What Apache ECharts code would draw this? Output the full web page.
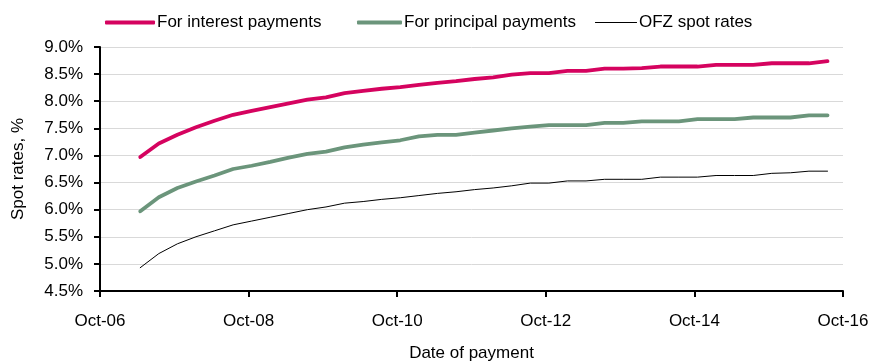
<!DOCTYPE html>
<html>
<head>
<meta charset="utf-8">
<script src="https://cdn.jsdelivr.net/npm/echarts@6/dist/echarts.min.js"></script>
<style>
  html, body { margin: 0; padding: 0; background: #fff; }
  #chart { width: 872px; height: 362px; }
</style>
</head>
<body>
<div id="chart"></div>
<script>
// Payment dates, in months after October 2006 (quarterly)
const paymentMonths = [
  6.5, 9.5, 12.5, 15.5, 18.5, 21.5, 24.5, 27.5, 30.5, 33.5,
  36.5, 39.5, 42.5, 45.5, 48.5, 51.5, 54.5, 57.5, 60.5, 63.5,
  66.5, 69.5, 72.5, 75.5, 78.5, 81.5, 84.5, 87.5, 90.5, 93.5,
  96.5, 99.5, 102.5, 105.5, 108.5, 111.5, 114.5, 117.5
];

// Spot rates, %
const interestRates = [
  6.97, 7.22, 7.38, 7.52, 7.64, 7.75, 7.82, 7.89, 7.96, 8.03,
  8.07, 8.15, 8.19, 8.23, 8.26, 8.30, 8.34, 8.37, 8.41, 8.44,
  8.49, 8.52, 8.52, 8.56, 8.56, 8.60, 8.60, 8.61, 8.64, 8.64,
  8.64, 8.67, 8.67, 8.67, 8.70, 8.70, 8.70, 8.74
];
const principalRates = [
  5.97, 6.23, 6.40, 6.52, 6.63, 6.75, 6.81, 6.88, 6.96, 7.03,
  7.07, 7.15, 7.20, 7.24, 7.28, 7.35, 7.38, 7.38, 7.42, 7.46,
  7.50, 7.53, 7.56, 7.56, 7.56, 7.60, 7.60, 7.63, 7.63, 7.63,
  7.67, 7.67, 7.67, 7.70, 7.70, 7.70, 7.74, 7.74
];
const ofzRates = [
  4.93, 5.19, 5.37, 5.50, 5.61, 5.72, 5.79, 5.86, 5.93, 6.00,
  6.05, 6.12, 6.15, 6.19, 6.22, 6.26, 6.30, 6.33, 6.37, 6.40,
  6.44, 6.49, 6.49, 6.53, 6.53, 6.56, 6.56, 6.56, 6.60, 6.60,
  6.60, 6.63, 6.63, 6.63, 6.67, 6.68, 6.71, 6.71
];

// X tick labels, every 24 months
const xTickLabels = ['Oct-06', 'Oct-08', 'Oct-10', 'Oct-12', 'Oct-14', 'Oct-16'];

const seriesNames = ['For interest payments', 'For principal payments', 'OFZ spot rates'];
const seriesColors = ['#d5035f', '#6b957b', '#000000'];
const seriesWidths = [3.8, 3.8, 1];
const seriesValues = [interestRates, principalRates, ofzRates];

const FONT = "'Liberation Sans', Arial, sans-serif";

const chart = echarts.init(document.getElementById('chart'), null, { renderer: 'canvas' });

const pairs = vals => paymentMonths.map((m, i) => [m, vals[i]]);

// One legend block per series, so each key sits in its own spot
const legendLefts = [105, 357, 595];
const legendKeyWidths = [50, 45, 42];

chart.setOption({
  animation: false,
  backgroundColor: '#ffffff',
  textStyle: { fontFamily: FONT },
  legend: seriesNames.map((name, i) => ({
    data: [name],
    left: legendLefts[i],
    top: 14,
    icon: 'roundRect',
    itemWidth: legendKeyWidths[i],
    itemHeight: seriesWidths[i] > 2 ? 4 : 1,
    itemGap: 0,
    padding: 0,
    textStyle: { fontFamily: FONT, fontSize: 17, color: '#000', padding: [0, 0, 0, -3] }
  })),
  grid: { left: 100, right: 29, top: 47, bottom: 71, containLabel: false, outerBoundsMode: 'none' },
  xAxis: {
    type: 'value',
    min: 0,
    max: 120,
    interval: 24,
    name: 'Date of payment',
    nameLocation: 'middle',
    nameGap: 54,
    nameTextStyle: { fontFamily: FONT, fontSize: 17, color: '#000' },
    axisLine: { show: true, onZero: false, lineStyle: { color: '#000', width: 2 } },
    axisTick: { show: true, length: 6, inside: false, lineStyle: { color: '#000', width: 2 } },
    axisLabel: {
      margin: 22,
      fontFamily: FONT, fontSize: 17, color: '#000',
      formatter: v => xTickLabels[Math.round(v / 24)] || ''
    },
    splitLine: { show: false }
  },
  yAxis: {
    type: 'value',
    min: 4.5,
    max: 9.0,
    interval: 0.5,
    name: 'Spot rates, %',
    nameLocation: 'middle',
    nameGap: 73,
    nameRotate: 90,
    nameTextStyle: { fontFamily: FONT, fontSize: 17, color: '#000' },
    axisLine: { show: true, lineStyle: { color: '#000', width: 2 } },
    axisTick: { show: true, length: 6, lineStyle: { color: '#000', width: 2 } },
    axisLabel: {
      margin: 17,
      fontFamily: FONT, fontSize: 17, color: '#000',
      formatter: v => v.toFixed(1) + '%'
    },
    splitLine: { show: true, lineStyle: { color: '#d9d9d9', width: 1 } }
  },
  series: seriesNames.map((name, i) => ({
    name,
    type: 'line',
    data: pairs(seriesValues[i]),
    symbol: 'none',
    smooth: false,
    color: seriesColors[i],
    lineStyle: { color: seriesColors[i], width: seriesWidths[i], cap: 'round', join: 'round' },
    z: 3 - i
  }))
});
</script>
</body>
</html>
